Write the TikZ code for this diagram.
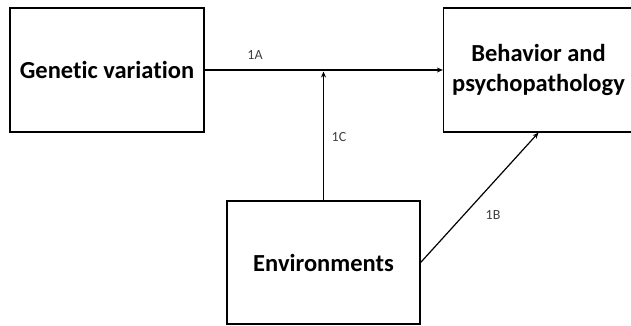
\documentclass[tikz,border=0pt]{standalone}
\usepackage{fontspec}
\setmainfont[Ligatures=NoCommon]{Carlito}
\usetikzlibrary{arrows.meta}
\begin{document}
\begin{tikzpicture}[x=1pt,y=-1pt,
  box/.style={draw, line width=1.3pt, align=center, inner sep=0pt,
    font=\bfseries\fontsize{24.5}{30}\selectfont},
  conn/.style={line width=1.2pt, -{Stealth[length=6pt,width=5pt]}},
  lbl/.style={font=\fontsize{14}{16}\selectfont, text=black!75}]
\useasboundingbox (0,0) rectangle (631,326);
\node[box, minimum width=194pt, minimum height=124pt] (gen) at (107,70) {Genetic variation};
\node[box, minimum width=190pt, minimum height=124pt] (beh) at (538.5,70) {Behavior and\\psychopathology};
\node[box, minimum width=193pt, minimum height=123pt] (env) at (323.5,262.5) {Environments};
\coordinate (m) at (323.5,70);
\draw[conn] (gen.east) -- (beh.west);
\draw[conn, shorten >=1.5pt] (env.north) -- (m);
\draw[conn] (env.east) -- (beh.south);
\node[lbl] (l1a) at (255,55) {1A};
\node[lbl] (l1c) at (339,137) {1C};
\node[lbl] (l1b) at (493,215) {1B};
\end{tikzpicture}
\end{document}
